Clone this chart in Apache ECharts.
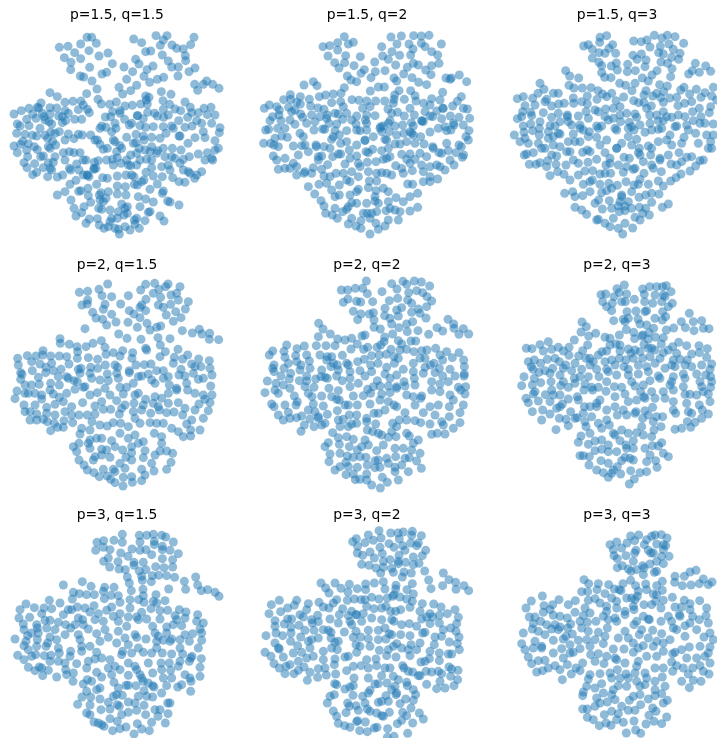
<!DOCTYPE html>
<html>
<head>
<meta charset="utf-8">
<script src="https://cdn.jsdelivr.net/npm/echarts@6/dist/echarts.min.js"></script>
<style>
  html, body { margin: 0; padding: 0; background: #fff; }
  #main { width: 717px; height: 738px; }
</style>
</head>
<body>
<div id="main"></div>
<script>
// all points, in units of 1/3 px from each panel's corner
const titles = ['p=1.5, q=1.5', 'p=1.5, q=2', 'p=1.5, q=3', 'p=2, q=1.5', 'p=2, q=2', 'p=2, q=3', 'p=3, q=1.5', 'p=3, q=2', 'p=3, q=3'];

const p15q15 = [261,112,275,112,178,142,204,139,242,132,289,130,267,152,224,158,297,168,324,159,193,173,242,176,213,187,212,209,337,191,269,202,306,222,320,217,241,228,251,231,276,243,372,201,398,215,407,178,417,192,401,117,425,128,468,107,501,107,490,120,481,136,437,155,452,153,487,165,516,135,530,145,550,147,582,112,572,134,556,167,557,182,505,183,515,201,535,201,441,209,459,198,432,229,380,238,449,247,472,238,491,232,534,228,567,215,585,204,584,253,620,243,610,253,638,253,593,271,657,265,357,262,410,256,392,272,368,282,291,267,260,281,150,278,172,290,
437,288,447,292,484,275,513,283,489,302,439,300,422,312,442,312,555,306,509,313,397,316,375,318,360,332,338,335,195,307,219,304,243,303,294,298,304,312,329,313,349,306,
490,328,525,327,542,332,571,322,464,340,472,348,413,347,430,356,595,338,612,325,633,322,622,344,645,345,575,338,563,352,536,362,505,345,491,352,443,337,332,350,316,351,250,315,262,328,268,338,235,329,205,340,187,350,245,358,224,358,176,348,150,342,132,350,112,322,98,342,108,355,127,340,80,358,60,378,52,372,
42,342,64,332,87,325,123,309,116,324,87,377,50,400,120,385,135,360,147,365,155,372,150,323,170,324,75,403,97,406,110,408,135,406,152,397,165,400,178,395,187,368,197,362,195,332,
68,424,42,438,52,458,62,433,85,431,103,440,112,449,80,450,83,470,72,488,81,503,104,491,98,524,110,517,130,503,122,470,130,468,145,440,150,445,167,435,158,424,143,415,195,420,205,402,222,416,235,403,247,405,
145,488,160,487,150,505,155,510,143,530,172,531,188,525,208,505,212,510,190,458,208,455,222,458,240,458,165,470,195,480,230,492,237,510,262,525,282,505,250,480,258,480,283,487,
272,405,300,385,305,378,318,382,345,370,348,385,335,395,374,358,360,340,412,347,395,370,388,375,420,377,437,382,460,380,490,380,515,378,520,385,555,382,576,378,605,370,635,370,660,383,658,398,590,362,540,408,537,408,498,400,480,415,455,412,430,408,408,403,380,412,400,430,408,428,432,420,455,440,473,452,490,445,517,445,543,450,564,430,585,413,615,413,610,395,645,422,655,445,645,450,622,458,595,462,568,470,550,478,525,475,515,470,495,470,470,460,450,455,435,450,418,445,410,460,392,465,365,445,350,455,352,473,338,478,322,445,310,448,300,433,285,420,292,420,340,420,345,425,360,437,
295,482,320,480,340,495,363,490,380,480,385,495,392,497,410,495,420,480,440,478,455,480,455,503,485,500,505,495,540,490,550,510,565,515,570,520,590,525,605,515,615,480,635,475,638,480,510,510,518,533,537,545,555,547,584,535,438,517,460,528,487,530,432,540,425,545,402,530,395,525,378,525,352,528,322,535,308,533,282,508,288,505,262,525,250,525,
210,553,228,541,267,530,243,572,236,574,264,565,290,553,195,575,172,585,213,600,265,587,272,607,303,578,298,585,325,575,352,558,376,560,352,582,378,585,415,590,412,555,403,553,450,568,472,552,490,573,487,580,437,597,460,606,503,603,510,606,537,615,
222,625,245,638,228,648,252,620,300,600,318,595,310,605,296,625,305,628,330,630,365,612,375,625,382,620,420,620,445,637,450,635,480,648,492,663,435,662,410,655,403,660,405,672,418,685,390,690,375,680,382,640,372,645,355,635,352,655,335,655,330,665,325,680,345,685,355,688,358,702,312,685,298,675,292,656,268,657,258,670];

const p15q2 = [283,110,310,127,295,132,263,128,239,137,219,140,263,150,234,168,287,167,284,188,254,188,267,204,331,170,312,197,343,209,333,220,292,228,303,240,320,245,363,233,376,215,405,212,374,186,395,140,398,168,415,178,423,111,454,108,441,132,426,155,449,166,437,195,477,132,491,107,514,108,537,106,514,130,525,140,489,147,482,165,545,155,563,165,567,190,545,197,490,190,505,195,472,202,527,210,543,224,461,222,432,234,440,243,486,233,506,247,530,254,588,234,600,238,604,234,628,225,650,245,574,132,
162,255,190,245,201,257,283,263,361,273,385,261,403,261,447,272,482,272,495,287,
121,284,122,298,101,299,151,290,178,298,151,312,208,290,227,285,250,282,273,280,245,308,272,305,306,299,327,301,350,303,377,303,404,303,432,298,434,285,463,298,498,303,521,310,545,296,578,277,570,300,540,315,622,304,634,290,608,318,580,325,58,315,80,320,43,325,116,322,140,307,135,330,182,318,204,324,222,328,280,320,338,325,360,320,414,327,430,310,480,325,425,340,
88,330,68,350,60,362,87,345,125,335,120,360,93,362,158,352,152,342,185,345,210,350,232,345,255,340,265,342,290,340,320,348,350,345,375,347,420,362,443,337,463,348,493,345,525,335,560,333,578,325,640,325,652,327,627,352,659,355,601,348,575,356,548,350,540,348,516,362,
56,388,47,390,83,385,105,385,135,373,170,370,195,365,230,355,237,370,260,372,278,358,305,360,318,372,346,360,350,370,392,380,400,378,415,370,435,378,458,375,484,368,490,378,515,363,520,365,540,396,565,385,585,380,610,370,612,375,640,375,657,392,648,410,603,390,590,392,
95,408,75,415,112,412,150,400,160,410,192,390,218,387,224,388,255,392,268,405,290,392,320,390,330,392,350,390,345,420,370,410,395,395,390,385,418,395,440,405,462,400,480,395,490,405,512,410,
41,430,62,430,72,435,85,440,130,438,155,437,165,435,198,435,199,440,245,418,250,410,222,440,240,445,272,430,290,425,320,435,345,422,368,448,348,455,355,458,405,418,410,420,485,400,435,432,450,432,470,425,495,430,522,432,548,440,550,445,567,458,590,430,595,452,627,435,634,440,655,420,618,458,641,465,
70,468,80,480,105,475,145,465,175,455,205,470,215,468,248,470,265,462,272,462,298,450,320,468,395,452,415,445,420,470,455,463,480,462,510,460,530,470,575,460,
85,508,105,505,130,490,120,505,140,525,140,500,165,515,185,520,190,503,205,480,215,508,233,494,240,530,222,528,258,520,280,520,285,492,300,475,325,490,330,500,352,487,378,485,400,478,410,475,437,497,455,505,480,490,470,478,495,478,515,495,540,500,560,495,570,500,585,510,600,480,612,495,637,472,
162,520,305,515,355,515,380,520,395,518,410,520,425,525,460,520,487,512,520,515,540,530,540,545,563,537,520,545,
175,560,207,553,230,550,245,570,268,555,290,540,300,545,325,530,358,543,380,543,
194,582,213,602,222,618,255,590,268,585,300,585,320,575,325,568,355,563,378,572,400,565,415,575,375,590,438,593,473,552,488,553,503,580,480,590,460,605,503,622,480,633,
305,608,320,610,295,620,255,625,227,640,247,645,262,655,278,635,290,628,350,610,375,603,385,610,415,605,420,625,408,632,450,635,435,630,
305,655,295,672,318,678,333,662,340,640,352,640,365,640,380,635,360,655,378,670,405,678,415,660,445,660,385,688,333,685,360,702];

const p15q3 = [300,112,320,107,299,127,265,134,251,138,277,148,297,158,315,160,338,134,327,145,347,160,277,174,297,187,305,197,349,189,334,198,305,218,352,210,383,193,382,215,406,212,401,123,424,125,441,120,450,141,399,166,424,162,411,178,438,180,435,200,463,106,486,114,502,106,525,110,551,130,507,132,481,139,476,158,490,162,520,148,540,160,515,172,536,178,483,186,503,190,516,206,512,230,471,212,456,225,427,234,445,243,
197,212,209,228,236,234,314,232,333,233,359,250,377,256,405,250,396,272,479,254,502,258,491,275,586,190,617,198,632,214,566,222,577,212,598,217,
120,250,132,268,114,280,160,280,175,280,207,256,222,264,247,264,273,263,294,272,335,280,320,290,308,282,262,288,220,294,291,298,371,291,438,272,432,285,470,280,458,288,482,293,509,294,530,292,542,270,552,262,569,282,589,268,615,278,640,262,603,292,635,288,52,296,70,290,98,295,
140,298,135,305,105,315,75,317,155,318,176,312,193,310,221,310,245,305,262,312,348,302,360,320,401,302,416,308,432,308,454,318,490,307,534,317,554,310,575,305,632,320,598,325,628,338,650,300,
130,338,92,337,68,335,65,350,52,356,95,347,155,352,175,340,202,345,235,348,258,335,285,330,295,335,317,327,340,325,380,340,405,342,440,325,449,345,470,345,490,335,515,352,535,345,555,350,578,335,603,350,
70,378,92,372,120,365,118,385,98,392,72,397,43,405,150,377,165,378,180,365,202,350,205,365,215,375,240,375,265,355,290,378,315,350,325,360,340,355,360,345,362,365,388,367,410,352,420,375,450,370,475,362,490,362,500,350,530,378,525,380,560,375,580,362,600,370,615,370,640,372,
118,405,75,415,60,425,85,430,145,395,175,400,180,402,145,415,160,410,220,402,240,385,250,390,268,395,295,385,305,378,345,385,350,390,385,385,395,380,402,390,435,397,455,390,475,388,485,385,510,405,565,390,587,400,620,405,640,405,
115,430,125,445,135,445,160,435,180,440,205,425,225,425,240,425,265,410,290,412,300,435,320,420,350,445,365,430,385,410,410,418,395,435,418,445,445,438,475,425,500,420,515,435,545,430,552,412,595,430,632,425,625,445,635,445,455,445,
73,465,100,458,80,462,155,465,170,468,200,455,210,455,220,480,248,457,262,450,270,455,315,458,330,475,350,445,372,472,388,475,415,458,420,465,452,465,480,475,480,480,505,465,537,458,560,472,575,470,600,482,610,480,
88,493,108,493,120,488,143,482,140,500,168,493,198,495,235,490,264,487,290,478,318,495,330,490,355,495,380,500,400,508,405,505,430,485,455,495,460,505,513,492,545,485,530,495,
150,527,173,515,192,523,210,540,235,525,255,513,278,512,300,522,315,520,332,520,370,517,432,520,484,515,570,513,587,498,543,522,528,533,512,543,490,558,
250,553,270,545,277,540,300,553,327,550,352,556,378,545,402,555,415,553,420,538,445,553,475,543,
194,580,218,575,225,590,248,587,270,575,305,578,320,572,335,565,365,590,365,585,395,575,417,592,437,585,455,580,477,582,
296,600,285,610,328,602,360,605,385,605,375,618,455,607,505,612,487,622,225,622,245,630,260,643,307,627,335,625,355,618,358,635,375,632,395,625,418,622,437,625,428,640,405,652,420,660,448,645,295,658,290,660,315,670,330,680,340,655,355,685,368,702,375,670,398,684];

const p2q15 = [323,102,297,118,263,124,238,127,306,137,335,140,263,150,246,165,262,162,315,163,310,178,362,162,385,137,422,120,437,103,464,100,504,102,497,110,477,118,460,130,540,110,513,135,530,130,482,142,438,148,425,165,475,165,490,172,512,163,535,150,565,155,556,177,527,185,499,195,543,203,520,214,420,172,437,182,388,182,402,192,420,203,278,187,288,204,308,208,335,193,348,216,320,225,384,217,412,232,441,220,450,240,470,232,482,228,255,236,356,252,381,265,423,268,474,263,510,266,547,242,577,249,598,238,606,252,629,250,628,268,656,269,481,285,
180,266,181,280,208,283,231,290,258,290,279,280,304,272,315,292,233,305,437,295,440,300,398,308,368,302,534,298,
53,325,82,317,108,318,129,302,128,315,152,318,178,318,200,320,232,325,265,323,293,328,318,313,340,308,360,318,396,325,480,320,496,305,523,322,548,327,563,315,596,327,628,332,
55,345,95,335,120,342,138,352,155,340,160,362,183,358,207,342,235,358,243,355,272,352,293,355,316,345,345,345,353,352,388,362,408,345,433,344,453,342,490,362,520,340,543,358,575,342,603,350,630,355,
62,368,66,373,97,362,115,382,137,368,175,380,200,380,222,392,240,370,270,370,322,372,350,370,355,385,388,368,415,380,445,372,470,362,490,385,505,380,537,375,555,378,585,350,580,370,
636,375,62,388,75,405,95,405,118,403,152,400,178,405,205,385,232,395,255,410,275,385,300,390,325,392,360,412,380,412,400,400,425,378,455,390,465,400,508,405,530,415,560,400,595,388,610,385,632,408,
51,423,45,446,75,430,85,430,105,430,125,435,150,420,160,432,178,442,200,430,225,418,250,412,270,435,292,428,315,415,330,435,370,432,405,435,415,430,437,448,465,440,485,445,505,430,530,420,563,420,585,430,610,435,636,435,615,448,
72,465,75,485,105,465,125,447,140,472,165,463,190,455,215,470,248,458,285,468,305,455,350,452,365,475,375,465,402,460,430,465,460,460,475,470,505,460,535,458,555,475,585,480,597,462,630,458,625,482,
90,485,110,492,90,510,110,510,130,508,140,490,165,495,195,485,215,495,237,495,262,495,285,492,310,478,332,478,358,492,400,485,425,480,452,490,478,480,500,488,522,486,548,495,575,510,610,505,
142,515,163,520,152,542,173,532,192,512,190,532,218,518,245,535,240,552,270,540,276,515,300,525,322,528,340,518,362,520,385,530,405,505,420,520,450,518,470,520,490,520,515,535,535,545,550,560,560,522,572,540,572,558,600,540,
290,565,305,565,270,570,265,580,220,590,237,580,230,605,270,595,335,572,360,550,385,565,405,555,415,580,430,575,463,550,485,560,485,580,
305,598,320,600,345,590,368,600,395,590,395,608,435,602,465,615,480,603,500,603,518,610,237,630,305,615,
285,620,330,622,378,622,430,623,280,630,360,640,375,655,395,630,455,640,513,637,500,658,252,645,262,660,
282,668,298,680,310,658,322,678,340,658,345,665,332,688,345,698,370,682,369,708,395,680,397,697,425,692,435,675,425,658,462,663];

const p2q2 = [349,93,316,115,293,120,274,120,338,115,352,131,396,125,425,101,441,117,459,94,470,103,493,93,514,96,539,108,476,128,500,122,518,128,531,140,545,153,280,157,294,147,320,154,332,156,368,155,418,152,443,145,473,150,485,160,530,170,505,177,485,187,510,190,405,175,440,180,455,173,310,184,333,192,323,209,358,192,370,188,372,210,404,197,420,205,445,198,425,222,470,222,488,215,528,204,372,232,391,237,428,252,447,233,472,245,504,242,536,253,561,233,578,243,594,208,611,222,612,235,640,236,627,253,656,252,206,220,219,237,241,252,205,260,
263,267,285,270,305,265,322,282,336,258,345,255,404,261,402,275,392,285,445,272,455,282,483,273,497,273,
110,285,102,304,68,303,58,315,141,296,163,288,199,287,228,287,255,287,303,297,341,298,353,292,381,292,423,298,450,300,470,298,492,305,515,302,531,300,557,295,590,305,170,315,137,317,105,322,210,315,232,320,245,320,277,316,365,317,388,315,409,313,432,320,445,325,525,325,570,315,607,323,627,308,578,330,
72,345,68,355,102,355,115,340,140,335,153,345,178,333,180,355,215,360,230,330,250,340,262,345,290,340,295,345,323,335,343,328,362,345,384,340,410,352,433,340,460,358,490,340,510,325,541,345,552,340,568,355,641,330,
72,365,122,370,150,360,170,378,213,380,225,382,243,350,265,360,300,365,330,362,365,365,405,372,440,375,490,365,525,352,600,358,643,350,615,378,643,372,642,378,
93,378,118,387,52,393,148,392,170,393,197,387,232,385,260,378,277,392,300,385,325,400,345,378,382,392,390,408,420,385,462,395,493,385,495,405,520,370,555,368,578,378,
78,400,100,405,120,415,75,420,85,430,45,428,165,410,192,412,237,415,300,410,353,418,370,410,415,408,440,410,465,408,545,395,570,402,595,395,625,412,647,410,632,420,
133,438,142,455,175,430,186,440,215,438,245,440,265,422,260,448,268,450,310,438,340,437,362,430,395,432,420,428,440,415,470,435,490,440,515,438,512,445,545,420,570,425,600,435,645,432,610,450,
65,462,72,470,105,465,138,465,175,480,190,462,220,468,262,482,285,465,295,465,322,465,360,462,390,450,415,455,432,465,440,470,465,488,495,465,520,488,540,470,565,465,598,470,640,465,630,488,
85,495,115,487,120,505,140,503,155,498,195,485,205,500,232,493,298,495,320,495,350,505,372,490,385,490,405,480,555,495,598,500,
100,510,180,507,205,505,225,520,265,510,280,508,305,522,350,515,377,522,428,520,448,510,470,510,495,512,512,518,540,522,575,515,580,525,610,535,630,518,
163,525,153,544,192,530,215,525,248,548,270,530,295,530,320,520,352,540,368,545,385,550,425,545,440,530,470,550,478,558,545,553,562,550,585,552,
265,563,290,560,310,568,345,570,395,555,415,562,438,560,505,570,225,590,235,578,268,583,298,590,335,590,355,585,400,585,435,595,460,595,490,580,
240,612,270,610,292,618,322,600,380,602,510,610,485,600,237,635,310,622,330,620,348,622,288,637,375,632,385,630,410,625,437,620,465,625,478,623,500,633,270,650,255,660,295,650,322,652,352,645,375,653,390,652,415,640,435,652,435,665,455,645,475,665,514,655,288,674,310,672,316,689,330,688,350,672,350,690,397,682,412,697,445,690,365,705,391,714];

const p2q3 = [373,105,351,116,303,134,317,132,380,132,358,128,342,140,403,148,428,117,449,110,470,110,488,110,499,107,513,125,433,133,465,135,490,135,495,140,485,155,517,160,434,155,458,160,308,155,320,170,337,160,365,155,376,155,335,182,381,185,408,183,435,185,440,182,488,185,505,170,568,190,341,212,370,208,375,215,385,205,414,207,420,222,440,225,465,205,487,210,497,200,544,215,580,215,605,212,246,216,259,230,243,246,379,239,401,247,429,255,461,235,447,248,499,240,521,234,556,233,582,242,610,235,627,236,
287,250,266,258,223,270,315,262,330,265,358,255,348,282,404,266,425,258,445,268,467,262,490,263,145,275,120,284,79,295,96,296,175,292,207,292,263,285,306,305,330,285,360,285,385,297,405,300,432,283,455,295,484,282,536,277,518,290,560,287,597,287,622,296,155,298,190,303,
130,303,207,316,248,302,236,318,258,325,270,325,320,303,295,315,360,303,393,310,420,305,445,295,465,300,490,308,505,300,530,310,575,312,598,308,
85,335,103,330,142,328,165,325,178,335,122,340,94,350,99,358,197,345,225,340,280,335,315,335,335,330,358,325,378,330,400,325,428,325,450,320,480,325,520,330,540,328,562,330,620,322,635,342,
117,367,135,362,158,355,190,355,215,362,245,358,270,345,290,358,320,358,345,345,372,350,385,358,415,345,440,350,465,340,495,355,515,345,525,350,555,345,575,350,605,345,630,358,
72,380,103,385,150,370,180,375,240,380,265,380,297,380,325,365,350,375,385,375,415,372,445,365,475,378,520,380,550,372,590,372,617,375,632,380,
97,405,65,407,122,398,153,395,190,395,182,407,223,385,225,400,255,402,275,412,295,412,320,395,343,410,365,412,395,395,430,405,450,392,480,385,515,395,555,385,600,395,550,410,635,395,605,410,
105,425,100,432,136,434,155,420,160,435,180,435,205,412,232,440,252,420,278,420,318,424,345,440,375,432,405,408,422,425,432,440,455,425,490,425,520,420,510,405,555,433,570,433,590,435,610,425,632,412,625,432,
78,445,85,458,115,453,150,455,205,447,187,462,235,450,300,450,290,460,270,470,385,455,410,450,435,445,465,445,495,445,520,455,560,460,598,465,630,455,
97,485,128,480,180,470,170,475,150,492,212,485,232,503,250,490,253,470,290,470,320,480,345,470,370,480,408,485,405,490,435,482,458,472,520,480,527,490,565,485,575,490,607,480,625,492,
125,510,178,505,198,508,205,527,225,505,255,515,275,500,295,520,320,510,328,525,352,495,380,495,428,505,445,495,470,500,488,500,460,515,605,505,562,515,585,517,572,532,
168,539,258,530,270,550,305,535,340,550,365,540,385,550,410,548,425,530,462,540,483,530,525,538,545,535,
243,558,235,577,265,583,285,573,305,570,325,585,345,555,360,572,400,572,378,585,430,555,455,560,485,578,475,588,
285,602,305,598,325,605,350,605,380,595,400,595,435,595,457,587,490,610,505,620,450,615,240,617,250,617,268,620,
375,622,390,625,400,630,365,632,
303,632,325,640,267,645,352,650,340,660,290,660,310,668,335,670,325,682,362,672,392,662,420,668,440,665,440,635,467,632,471,652,403,687,388,702];

const p3q15 = [367,124,418,127,440,127,460,124,485,127,497,132,291,148,311,143,342,142,367,148,420,147,463,145,463,155,520,147,310,163,287,172,330,170,396,168,420,172,438,170,487,160,487,170,510,172,362,180,384,190,455,185,535,182,325,195,311,205,329,222,354,206,357,228,376,230,402,208,402,217,430,208,418,234,438,230,467,221,492,224,487,197,518,200,518,222,382,252,388,270,394,293,425,250,427,262,457,248,454,266,476,247,500,248,524,253,553,265,557,289,587,252,593,276,604,293,623,290,645,298,657,310,506,288,
190,276,247,266,273,280,314,283,310,295,342,283,220,298,238,302,260,305,283,305,333,307,313,317,355,308,217,318,429,289,430,308,468,305,390,320,416,320,432,328,460,325,470,330,495,323,148,322,180,330,78,333,60,350,103,344,
57,375,89,373,125,362,132,345,155,347,190,365,205,350,215,350,232,342,255,345,270,357,282,338,360,328,295,362,320,352,335,342,360,362,390,345,425,358,453,347,480,353,503,352,538,350,558,357,593,365,
70,393,72,410,110,395,112,405,115,420,135,382,150,382,140,405,175,388,165,410,197,395,212,405,235,375,248,380,250,395,225,395,265,408,285,380,310,385,340,370,355,385,385,372,410,372,415,380,440,378,480,378,458,400,525,368,530,380,555,375,590,385,610,390,600,408,500,402,520,395,545,398,
45,438,83,428,78,445,95,420,112,440,150,432,143,450,170,440,195,425,235,425,240,440,290,422,315,410,380,400,355,415,325,433,300,445,375,435,405,425,410,433,438,438,465,420,475,430,500,420,515,438,555,425,578,422,605,420,568,445,605,442,
72,458,85,470,110,460,138,460,175,465,245,460,270,460,350,450,385,455,415,465,470,445,490,442,540,440,540,465,510,445,595,465,
53,487,72,500,95,490,107,485,133,488,153,487,178,480,212,475,210,490,245,475,290,478,265,505,285,498,305,495,330,500,365,485,368,475,395,480,430,478,455,480,470,465,487,480,515,483,548,483,576,490,572,495,604,497,
85,523,105,533,118,522,125,525,150,505,175,505,195,510,230,512,260,525,325,525,345,520,385,510,405,520,410,530,445,510,458,540,483,510,508,510,540,505,568,505,600,523,
128,548,145,532,170,552,197,530,200,545,220,540,219,565,290,538,305,552,335,545,360,530,385,547,420,545,425,555,485,530,490,555,512,532,515,555,535,520,555,545,600,550,570,555,
250,573,262,560,275,565,342,568,355,585,378,577,385,577,408,578,430,565,445,570,458,578,462,582,500,578,533,582,545,575,573,565,572,595,
260,595,300,585,290,590,246,612,272,612,300,618,340,610,350,605,367,607,432,593,415,610,440,610,458,612,485,600,
233,634,270,636,325,628,352,635,385,627,405,630,432,637,465,650,480,650,503,630,510,630,303,650,330,648,358,640,410,652,385,658,365,665,330,677,260,660,270,665,282,687,295,690,305,695,312,700,352,685,378,702,360,707,338,713,402,723,412,692,425,708,448,713,437,665,455,688,474,670,496,690,504,662];

const p3q2 = [387,113,422,120,444,120,460,117,487,115,485,127,514,128,355,126,393,135,319,137,308,146,345,149,370,142,448,138,505,150,500,158,482,150,417,152,432,163,458,158,465,172,390,163,323,160,322,180,360,177,397,182,527,172,517,188,490,192,338,187,373,195,420,200,447,187,445,205,400,205,335,214,357,217,378,225,400,223,425,226,445,212,467,208,507,211,490,215,392,240,430,238,462,237,484,240,457,252,524,234,580,240,536,261,597,260,617,268,642,278,656,293,578,278,618,289,543,287,
213,270,227,285,237,300,255,270,273,286,298,274,294,297,322,287,347,273,347,290,373,270,400,266,405,288,438,277,437,288,487,272,471,290,490,303,432,305,428,310,
88,322,64,335,140,322,133,337,113,345,92,356,57,362,175,332,170,350,207,328,220,342,237,345,250,330,260,320,278,347,292,322,313,318,333,320,345,320,365,313,387,318,412,315,450,312,470,318,487,325,517,332,551,333,
305,355,320,365,350,340,372,347,395,345,408,340,422,355,437,355,452,350,480,343,510,355,540,362,573,342,615,350,592,362,
150,365,160,372,125,378,113,378,75,383,75,400,103,393,123,403,147,397,185,380,187,390,203,367,205,386,240,378,268,365,265,390,295,368,300,385,318,365,340,362,365,375,395,380,425,380,432,385,455,395,478,392,500,400,515,378,530,372,548,372,540,392,568,367,568,390,625,373,620,392,
48,428,78,420,98,428,123,420,122,445,165,412,192,412,152,432,175,445,205,435,220,410,235,412,243,418,243,435,283,417,305,395,318,415,335,385,355,412,385,412,405,405,425,425,418,422,452,425,480,428,518,420,555,432,525,418,575,430,580,410,602,405,618,415,627,432,
75,450,143,458,185,440,255,448,265,445,310,433,332,432,355,437,385,440,408,438,440,452,483,455,510,450,553,455,598,447,622,452,
45,478,85,465,88,468,100,492,130,480,155,478,180,465,245,465,262,470,318,455,330,460,360,460,388,472,415,470,430,460,455,465,475,470,500,470,540,475,568,480,595,483,605,483,628,470,
63,490,145,505,170,495,190,490,220,475,220,500,255,498,285,492,295,490,350,500,320,478,378,498,410,488,438,492,480,488,513,507,525,505,538,497,568,503,
72,512,88,525,120,515,108,520,162,522,180,538,105,542,132,542,145,532,205,527,225,525,253,515,290,533,310,520,333,518,355,525,380,518,405,525,420,525,458,518,462,525,475,535,488,537,528,535,510,548,545,537,565,535,575,542,597,522,605,528,624,532,
172,562,203,553,229,546,257,543,312,555,395,548,355,555,430,550,445,560,470,568,505,548,602,550,623,560,570,565,
254,572,260,575,310,578,285,588,300,582,375,573,385,572,411,570,530,574,472,578,490,590,435,580,425,590,440,600,438,605,360,592,338,610,355,600,253,605,240,610,232,630,585,585,560,587,612,578,
309,607,408,608,395,625,385,628,415,625,467,618,497,605,293,630,298,640,345,630,318,638,325,652,450,632,490,622,
250,654,288,659,352,648,360,655,380,660,395,668,400,670,418,658,458,658,470,668,483,645,508,660,520,678,260,670,265,691,284,698,300,703,323,683,320,686,346,687,329,713,352,716,373,705,381,703,413,707,442,692,455,682,488,690,473,721,412,733,432,730];

const p3q3 = [392,129,416,126,404,143,465,126,484,125,501,135,455,130,440,140,330,155,350,147,381,150,433,155,470,153,490,155,497,158,340,170,365,165,408,172,378,188,445,172,460,180,453,180,490,170,485,190,507,190,342,188,352,197,404,180,400,205,352,224,367,218,385,228,428,218,450,213,470,205,490,212,432,225,393,235,410,230,430,245,463,238,470,235,
525,250,524,268,547,278,553,250,570,237,588,232,573,276,598,272,610,258,625,275,636,267,
392,262,407,278,252,260,266,272,295,272,326,275,369,272,437,273,470,278,487,265,
245,296,263,296,291,290,343,288,358,290,363,293,415,295,440,290,460,303,487,292,470,305,315,302,335,315,412,310,517,313,127,309,94,324,132,338,177,320,158,335,205,335,226,323,265,322,285,317,300,330,380,315,350,325,395,315,405,320,467,325,490,322,553,322,570,332,599,323,78,345,
150,350,130,358,255,345,270,360,320,340,320,355,350,345,375,355,400,340,402,350,432,335,455,335,483,345,525,342,545,342,570,350,620,345,225,358,180,370,160,367,88,372,105,372,202,375,250,368,310,370,345,375,375,365,430,370,448,380,505,370,538,365,540,370,578,370,618,368,
100,392,122,385,140,395,165,395,180,402,212,393,240,385,262,388,288,385,325,380,350,385,410,385,445,378,483,385,515,385,555,398,570,390,598,380,
97,408,115,415,70,420,105,445,135,425,155,408,175,410,203,405,217,423,245,405,265,415,295,418,322,405,375,415,402,395,425,410,418,425,458,412,485,422,520,405,530,410,555,430,590,410,612,432,625,390,630,420,
65,452,125,460,160,442,190,438,198,430,235,442,260,440,285,440,315,430,355,435,385,435,400,450,445,435,470,445,490,450,510,440,640,440,
75,470,100,465,125,465,160,480,185,467,210,455,240,467,270,460,310,452,340,468,372,468,430,458,415,465,460,460,490,475,525,478,545,470,568,462,600,460,630,462,
85,492,115,503,135,502,190,495,210,480,220,478,272,485,295,482,320,490,345,495,400,478,470,490,518,482,560,495,590,495,615,490,625,480,
95,512,145,525,165,518,202,515,228,525,248,510,285,505,312,512,350,500,375,510,415,505,440,490,410,520,465,525,490,525,515,507,530,518,550,525,578,525,600,518,630,510,
110,537,128,533,180,530,214,543,240,533,270,545,300,542,330,540,352,530,378,543,405,540,435,540,518,535,565,543,610,535,627,543,
187,560,265,558,335,555,360,555,385,555,410,565,440,555,465,565,487,552,545,565,580,562,603,565,
260,580,285,585,305,572,380,580,355,578,340,590,420,580,465,590,495,580,568,584,250,597,248,608,310,600,335,605,435,575,
290,615,322,627,300,630,285,640,345,620,365,640,388,622,400,610,420,605,445,618,465,608,485,602,490,630,502,622,
248,648,262,648,385,652,405,652,422,635,458,645,468,655,447,667,313,665,335,655,355,662,262,673,280,680,298,698,318,690,333,697,350,680,370,688,402,684,438,693,462,685,485,692,500,672,379,720,407,711,422,721];

const allPoints = [p15q15, p15q2, p15q3, p2q15, p2q2, p2q3, p3q15, p3q2, p3q3];

const colLeft = [0, 250, 500];
const colWidth = [240, 235, 217];
const rowTop = [0, 250, 493];
const panelH = 245;

function pairs(flat) {
  const out = [];
  for (let i = 0; i < flat.length; i += 2) out.push([flat[i], flat[i + 1]]);
  return out;
}

const chart = echarts.init(document.getElementById('main'));
const grid = [], xAxis = [], yAxis = [], series = [], title = [];

titles.forEach((t, i) => {
  const left = colLeft[i % 3];
  const w = colWidth[i % 3];
  const top = rowTop[Math.floor(i / 3)];
  // outerBoundsMode none, otherwise v6 squeezes the third column to fit
  grid.push({ left: left, top: top, width: w, height: panelH, outerBoundsMode: 'none' });
  xAxis.push({ type: 'value', gridIndex: i, min: 0, max: w * 3, show: false });
  yAxis.push({ type: 'value', gridIndex: i, min: 0, max: panelH * 3, inverse: true, show: false });
  series.push({
    type: 'scatter',
    xAxisIndex: i,
    yAxisIndex: i,
    data: pairs(allPoints[i]),
    symbolSize: 9,
    clip: false,
    itemStyle: { color: '#1f77b4', opacity: 0.5 },
    silent: true
  });
  title.push({
    text: t,
    left: left + 117,
    top: (i < 6 ? top + 8 : top + 15),
    textAlign: 'center',
    padding: 0,
    textStyle: { fontFamily: 'DejaVu Sans', fontSize: 13.9, fontWeight: 'normal', color: '#000' }
  });
});

chart.setOption({
  animation: false,
  backgroundColor: '#fff',
  title: title,
  grid: grid,
  xAxis: xAxis,
  yAxis: yAxis,
  series: series
});
</script>
</body>
</html>
